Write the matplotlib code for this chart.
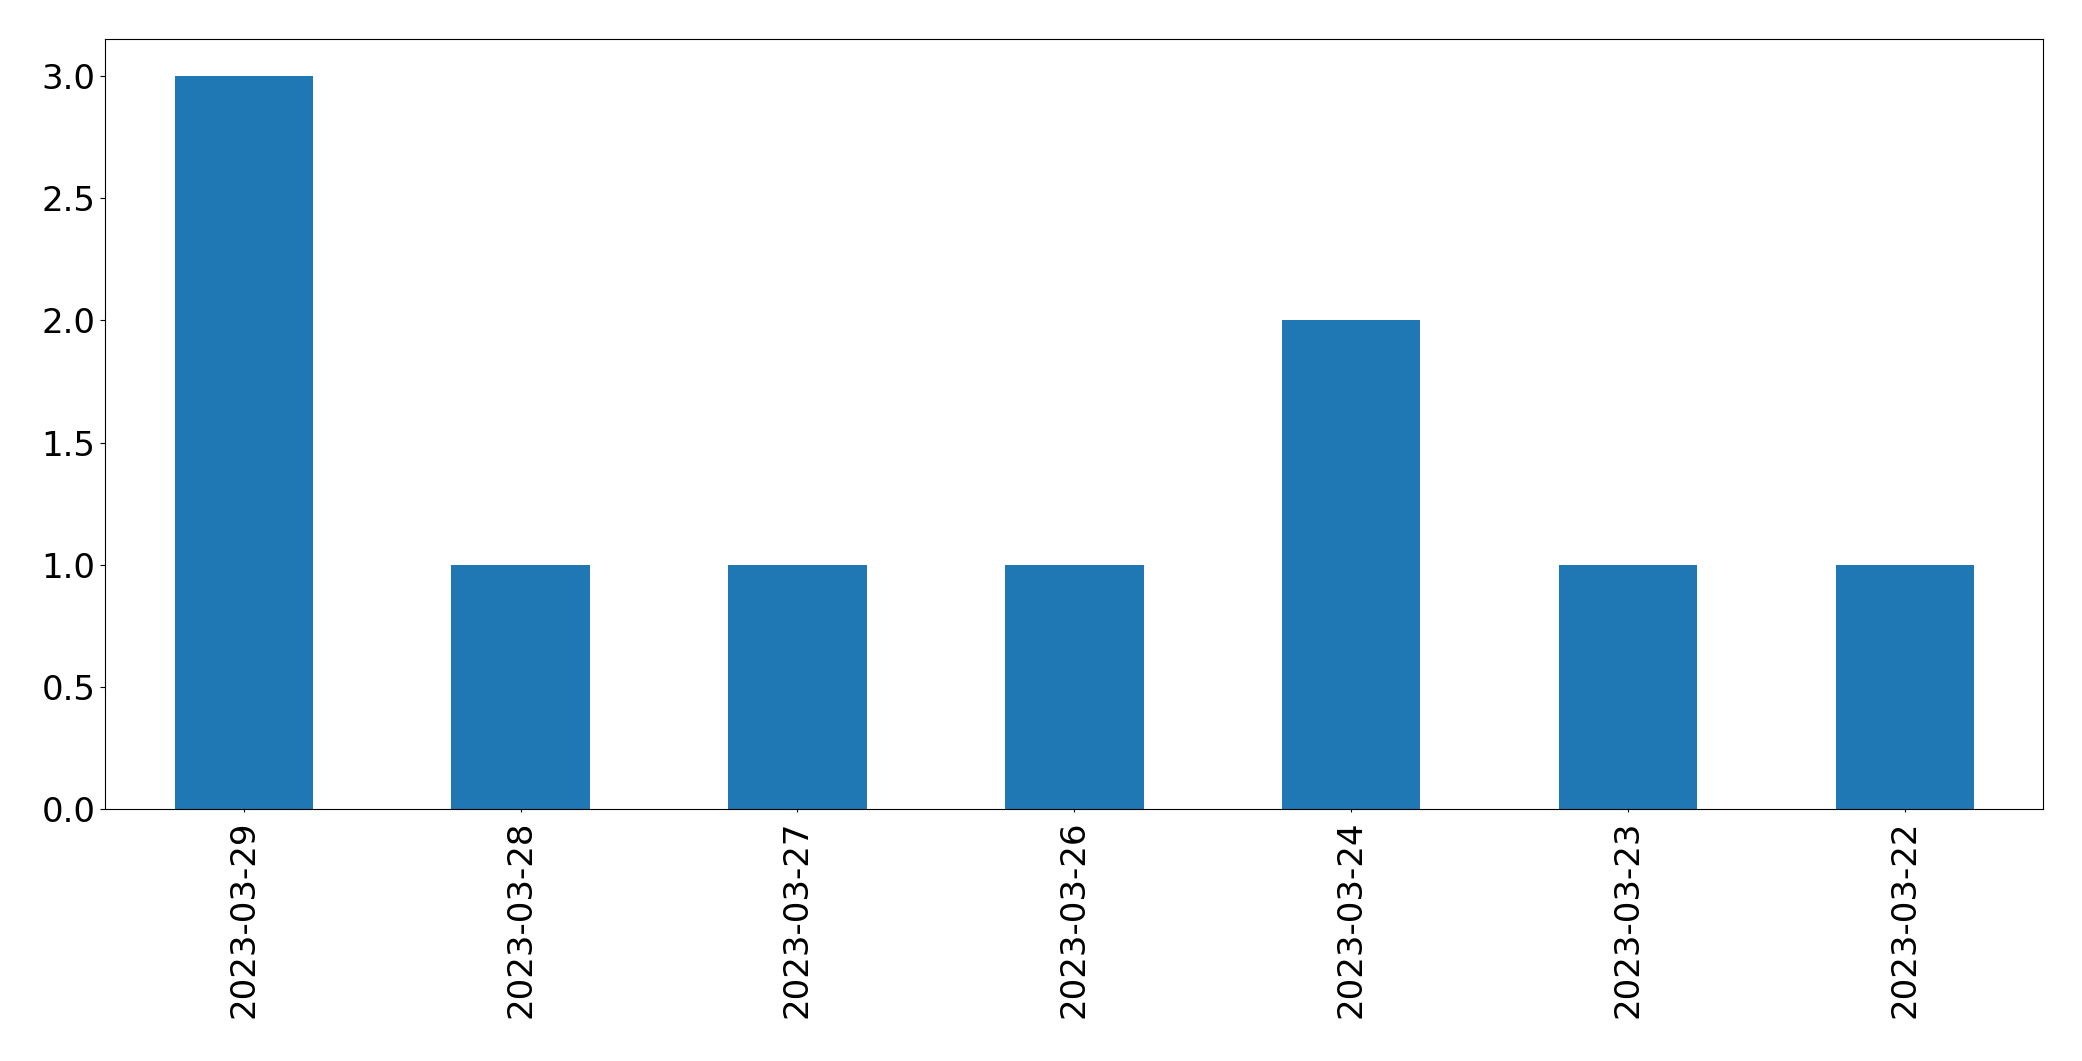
import matplotlib
matplotlib.use('Agg')
import matplotlib.pyplot as plt
import pandas as pd

dates = ['2023-03-29', '2023-03-28', '2023-03-27', '2023-03-26',
         '2023-03-24', '2023-03-23', '2023-03-22']
counts = [3, 1, 1, 1, 2, 1, 1]

W, H = 2082, 1061
fig = plt.figure(figsize=(W / 100, H / 100), dpi=100)
ax = fig.add_axes([105.3 / W, (H - 809.3) / H, 1938 / W, 770 / H])

s = pd.Series(counts, index=dates)
s.plot(kind='bar', ax=ax, color='#1f77b4')

ax.tick_params(axis='both', labelsize=24.5)
ax.tick_params(axis='x', length=2.4, pad=6)

fig.savefig('out.png', dpi=100)
